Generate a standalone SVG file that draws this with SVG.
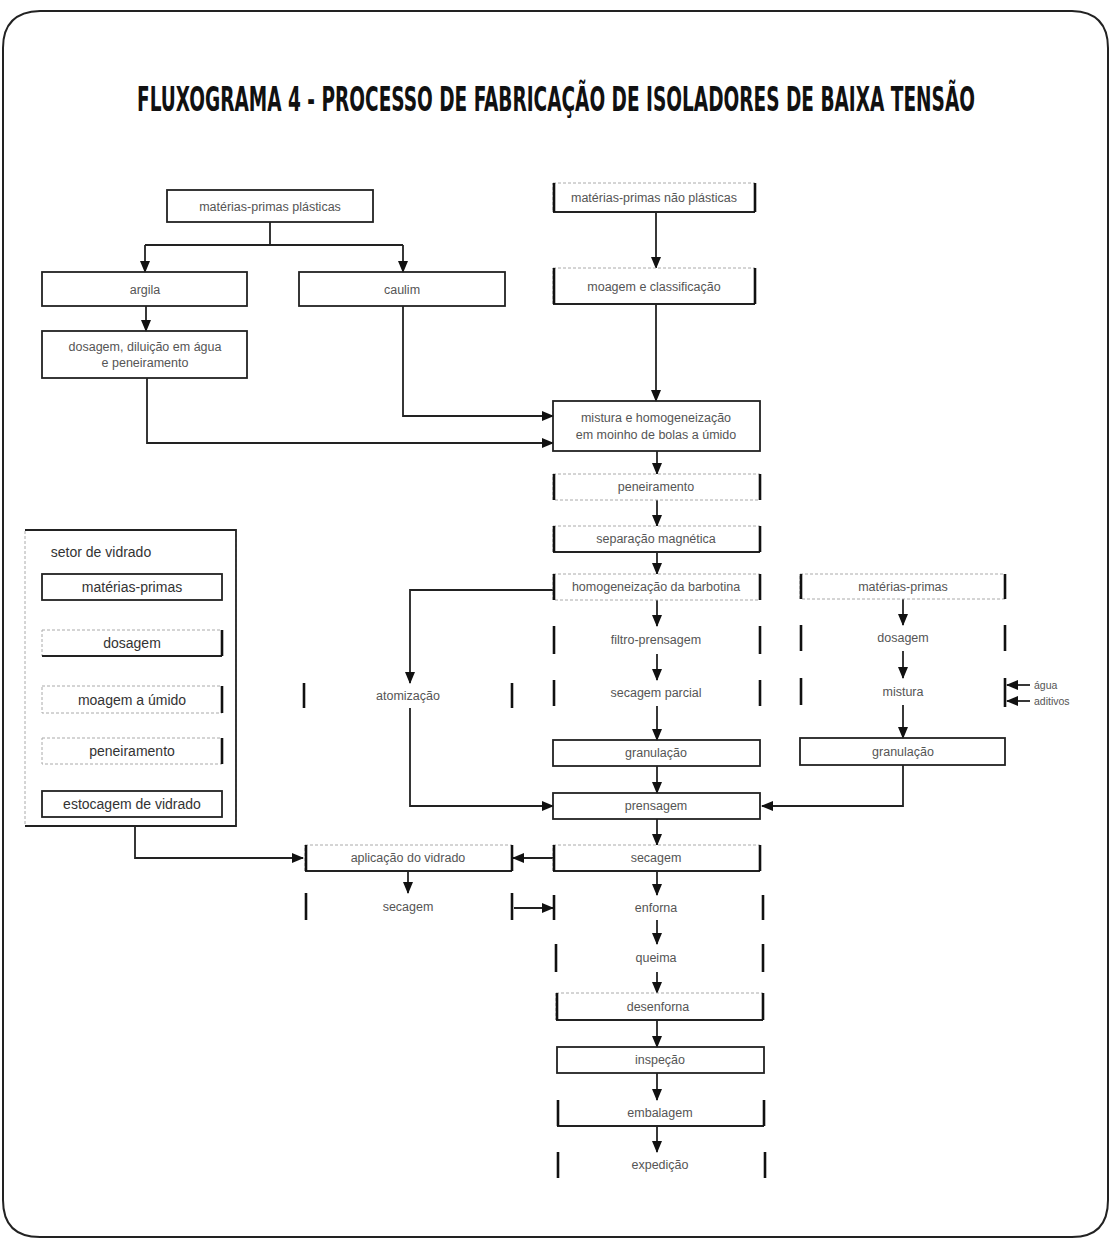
<svg xmlns="http://www.w3.org/2000/svg" width="1112" height="1247" viewBox="0 0 1112 1247">
<style>
  .frame{fill:none;stroke:#222;stroke-width:2}
  .title{font-family:"DejaVu Sans Condensed","DejaVu Sans",sans-serif;font-weight:bold;font-size:20px;fill:#111}
  .faint{fill:#fff;stroke:#aaa;stroke-width:1;stroke-dasharray:3 2}
  .solid{fill:none;stroke:#222;stroke-width:1.8}
  .bar{stroke:#111;stroke-width:2.6}
  .lbl{font-family:"Liberation Sans",Arial,sans-serif;font-size:12.5px;fill:#555;text-anchor:middle}
  .lbl2{font-family:"Liberation Sans",Arial,sans-serif;font-size:14px;fill:#333;text-anchor:middle}
  .small{font-family:"Liberation Sans",Arial,sans-serif;font-size:10.5px;fill:#555}
  .conn{fill:none;stroke:#222;stroke-width:1.8}
</style>
<defs>
  <marker id="ah" viewBox="0 0 12 12" refX="11" refY="6" markerWidth="12" markerHeight="12" markerUnits="userSpaceOnUse" orient="auto">
    <path d="M0,1 L12,6 L0,11 z" fill="#111"/>
  </marker>
</defs>
<rect width="1112" height="1247" fill="#fff"/>
<path class="frame" d="M3,48 Q3,12 40,11 L1072,11 Q1108,12 1108,48 L1108,1200 Q1108,1237 1072,1237 L40,1237 Q3,1237 3,1200 Z"/>
<text class="title" transform="translate(137,111) scale(1,1.65)" x="0" y="0" textLength="838" lengthAdjust="spacingAndGlyphs">FLUXOGRAMA 4 - PROCESSO DE FABRICAÇÃO DE ISOLADORES DE BAIXA TENSÃO</text>

<g id="connectors">
  <path class="conn" d="M270,222 V245 M145,245 H403"/>
  <path class="conn" d="M145,245 V272" marker-end="url(#ah)"/>
  <path class="conn" d="M403,245 V272" marker-end="url(#ah)"/>
  <path class="conn" d="M146,306 V331" marker-end="url(#ah)"/>
  <path class="conn" d="M147,378 V443 H553" marker-end="url(#ah)"/>
  <path class="conn" d="M403,306 V416 H553" marker-end="url(#ah)"/>
  <path class="conn" d="M656,212 V268" marker-end="url(#ah)"/>
  <path class="conn" d="M656,304 V401" marker-end="url(#ah)"/>
  <path class="conn" d="M657,451 V474" marker-end="url(#ah)"/>
  <path class="conn" d="M657,500 V526" marker-end="url(#ah)"/>
  <path class="conn" d="M657,552 V574" marker-end="url(#ah)"/>
  <path class="conn" d="M553,590 H410 V683" marker-end="url(#ah)"/>
  <path class="conn" d="M657,600 V626" marker-end="url(#ah)"/>
  <path class="conn" d="M657,654 V680" marker-end="url(#ah)"/>
  <path class="conn" d="M657,706 V740" marker-end="url(#ah)"/>
  <path class="conn" d="M657,766 V793" marker-end="url(#ah)"/>
  <path class="conn" d="M410,708 V806 H553" marker-end="url(#ah)"/>
  <path class="conn" d="M903,765 V806 H762" marker-end="url(#ah)"/>
  <path class="conn" d="M657,819 V845" marker-end="url(#ah)"/>
  <path class="conn" d="M553,858 H513" marker-end="url(#ah)"/>
  <path class="conn" d="M135,826 V858 H303" marker-end="url(#ah)"/>
  <path class="conn" d="M408,871 V893" marker-end="url(#ah)"/>
  <path class="conn" d="M514,908 H553" marker-end="url(#ah)"/>
  <path class="conn" d="M657,871 V895" marker-end="url(#ah)"/>
  <path class="conn" d="M657,920 V944" marker-end="url(#ah)"/>
  <path class="conn" d="M657,972 V993" marker-end="url(#ah)"/>
  <path class="conn" d="M657,1020 V1047" marker-end="url(#ah)"/>
  <path class="conn" d="M657,1073 V1100" marker-end="url(#ah)"/>
  <path class="conn" d="M657,1126 V1152" marker-end="url(#ah)"/>
  <path class="conn" d="M903,599 V625" marker-end="url(#ah)"/>
  <path class="conn" d="M903,651 V678" marker-end="url(#ah)"/>
  <path class="conn" d="M903,705 V738" marker-end="url(#ah)"/>
  <path class="conn" d="M1030,685 H1007" marker-end="url(#ah)"/>
  <path class="conn" d="M1030,701 H1007" marker-end="url(#ah)"/>
  <path class="conn" d="M133,600 V630" marker-end="url(#ah)"/>
  <path class="conn" d="M133,656 V686" marker-end="url(#ah)"/>
  <path class="conn" d="M133,713 V738" marker-end="url(#ah)"/>
  <path class="conn" d="M133,764 V791" marker-end="url(#ah)"/>
</g>

<g id="n-mp-plasticas"><rect class="solid" x="167" y="190" width="206" height="32"/><text class="lbl" x="270" y="211">matérias-primas plásticas</text></g>
<g id="n-argila"><rect class="solid" x="42" y="272" width="205" height="34"/><text class="lbl" x="145" y="294">argila</text></g>
<g id="n-caulim"><rect class="solid" x="299" y="272" width="206" height="34"/><text class="lbl" x="402" y="294">caulim</text></g>
<g id="n-dosagem-diluicao"><rect class="solid" x="42" y="331" width="205" height="47"/><text class="lbl" x="145" y="351">dosagem, diluição em água</text><text class="lbl" x="145" y="367">e peneiramento</text></g>

<g id="n-mp-nao-plasticas"><rect class="faint" x="553" y="183" width="202" height="29"/><line class="solid" x1="553" y1="212" x2="755" y2="212"/><line class="bar" x1="554" y1="183" x2="554" y2="212"/><line class="bar" x1="755" y1="183" x2="755" y2="212"/><text class="lbl" x="654" y="202">matérias-primas não plásticas</text></g>
<g id="n-dosagem-moagem"><rect class="faint" x="553" y="268" width="202" height="36"/><line class="solid" x1="553" y1="304" x2="755" y2="304"/><line class="bar" x1="554" y1="268" x2="554" y2="304"/><line class="bar" x1="755" y1="268" x2="755" y2="304"/><text class="lbl" x="654" y="291">moagem e classificação</text></g>
<g id="n-mistura"><rect class="solid" x="553" y="401" width="207" height="50"/><text class="lbl" x="656" y="422">mistura e homogeneização</text><text class="lbl" x="656" y="439">em moinho de bolas a úmido</text></g>
<g id="n-peneiramento"><rect class="faint" x="553" y="474" width="207" height="26"/><line class="bar" x1="554" y1="474" x2="554" y2="500"/><line class="bar" x1="760" y1="474" x2="760" y2="500"/><text class="lbl" x="656" y="491">peneiramento</text></g>
<g id="n-separacao"><rect class="faint" x="553" y="526" width="207" height="26"/><line class="solid" x1="553" y1="552" x2="760" y2="552"/><line class="bar" x1="554" y1="526" x2="554" y2="552"/><line class="bar" x1="760" y1="526" x2="760" y2="552"/><text class="lbl" x="656" y="543">separação magnética</text></g>
<g id="n-homog"><rect class="faint" x="553" y="574" width="207" height="26"/><line class="bar" x1="554" y1="574" x2="554" y2="600"/><line class="bar" x1="760" y1="574" x2="760" y2="600"/><text class="lbl" x="656" y="591">homogeneização da barbotina</text></g>
<g id="n-filtro"><line class="bar" x1="554" y1="626" x2="554" y2="654"/><line class="bar" x1="760" y1="626" x2="760" y2="654"/><text class="lbl" x="656" y="644">filtro-prensagem</text></g>
<g id="n-secagem-parcial"><line class="bar" x1="554" y1="680" x2="554" y2="706"/><line class="bar" x1="760" y1="680" x2="760" y2="706"/><text class="lbl" x="656" y="697">secagem parcial</text></g>
<g id="n-granulacao"><rect class="solid" x="553" y="740" width="207" height="26"/><text class="lbl" x="656" y="757">granulação</text></g>
<g id="n-prensagem"><rect class="solid" x="553" y="793" width="207" height="26"/><text class="lbl" x="656" y="810">prensagem</text></g>
<g id="n-secagem"><rect class="faint" x="553" y="845" width="207" height="26"/><line class="solid" x1="553" y1="871" x2="760" y2="871"/><line class="bar" x1="554" y1="845" x2="554" y2="871"/><line class="bar" x1="760" y1="845" x2="760" y2="871"/><text class="lbl" x="656" y="862">secagem</text></g>
<g id="n-enforna"><line class="bar" x1="554" y1="895" x2="554" y2="920"/><line class="bar" x1="763" y1="895" x2="763" y2="920"/><text class="lbl" x="656" y="912">enforna</text></g>
<g id="n-queima"><line class="bar" x1="556" y1="944" x2="556" y2="972"/><line class="bar" x1="763" y1="944" x2="763" y2="972"/><text class="lbl" x="656" y="962">queima</text></g>
<g id="n-desenforna"><rect class="faint" x="556" y="993" width="207" height="27"/><line class="solid" x1="556" y1="1020" x2="763" y2="1020"/><line class="bar" x1="557" y1="993" x2="557" y2="1020"/><line class="bar" x1="763" y1="993" x2="763" y2="1020"/><text class="lbl" x="658" y="1011">desenforna</text></g>
<g id="n-inspecao"><rect class="solid" x="557" y="1047" width="207" height="26"/><text class="lbl" x="660" y="1064">inspeção</text></g>
<g id="n-embalagem"><line class="solid" x1="557" y1="1126" x2="764" y2="1126"/><line class="bar" x1="558" y1="1100" x2="558" y2="1126"/><line class="bar" x1="764" y1="1100" x2="764" y2="1126"/><text class="lbl" x="660" y="1117">embalagem</text></g>
<g id="n-expedicao"><line class="bar" x1="558" y1="1152" x2="558" y2="1178"/><line class="bar" x1="765" y1="1152" x2="765" y2="1178"/><text class="lbl" x="660" y="1169">expedição</text></g>

<g id="n-atomizacao"><line class="bar" x1="304" y1="683" x2="304" y2="708"/><line class="bar" x1="512" y1="683" x2="512" y2="708"/><text class="lbl" x="408" y="700">atomização</text></g>
<g id="n-aplicacao"><rect class="faint" x="305" y="845" width="207" height="26"/><line class="solid" x1="305" y1="871" x2="512" y2="871"/><line class="bar" x1="306" y1="845" x2="306" y2="871"/><line class="bar" x1="512" y1="845" x2="512" y2="871"/><text class="lbl" x="408" y="862">aplicação do vidrado</text></g>
<g id="n-secagem2"><line class="bar" x1="306" y1="893" x2="306" y2="920"/><line class="bar" x1="512" y1="893" x2="512" y2="920"/><text class="lbl" x="408" y="911">secagem</text></g>

<g id="n-r-mp"><rect class="faint" x="800" y="574" width="205" height="25"/><line class="bar" x1="801" y1="574" x2="801" y2="599"/><line class="bar" x1="1005" y1="574" x2="1005" y2="599"/><text class="lbl" x="903" y="591">matérias-primas</text></g>
<g id="n-r-dosagem"><line class="bar" x1="801" y1="625" x2="801" y2="651"/><line class="bar" x1="1005" y1="625" x2="1005" y2="651"/><text class="lbl" x="903" y="642">dosagem</text></g>
<g id="n-r-mistura"><line class="bar" x1="801" y1="678" x2="801" y2="705"/><line class="bar" x1="1005" y1="678" x2="1005" y2="707"/><text class="lbl" x="903" y="696">mistura</text><text class="small" x="1034" y="689">água</text><text class="small" x="1034" y="705">aditivos</text></g>
<g id="n-r-granulacao"><rect class="solid" x="800" y="738" width="205" height="27"/><text class="lbl" x="903" y="756">granulação</text></g>

<g id="n-setor-vidrado">
  <rect class="faint" x="25" y="530" width="211" height="296"/>
  <path class="solid" d="M25,530 H236 V826 H25"/>
  <text class="lbl2" x="101" y="557" font-size="15">setor de vidrado</text>
  <g id="n-v-mp"><rect class="solid" x="42" y="574" width="180" height="26"/><text class="lbl2" x="132" y="592">matérias-primas</text></g>
  <g id="n-v-dosagem"><rect class="faint" x="42" y="630" width="180" height="26"/><line class="solid" x1="42" y1="656" x2="222" y2="656"/><line class="bar" x1="222" y1="630" x2="222" y2="656"/><text class="lbl2" x="132" y="648">dosagem</text></g>
  <g id="n-v-moagem"><rect class="faint" x="42" y="686" width="180" height="27"/><line class="bar" x1="222" y1="686" x2="222" y2="713"/><text class="lbl2" x="132" y="705">moagem a úmido</text></g>
  <g id="n-v-peneiramento"><rect class="faint" x="42" y="738" width="180" height="26"/><line class="bar" x1="222" y1="738" x2="222" y2="764"/><text class="lbl2" x="132" y="756">peneiramento</text></g>
  <g id="n-v-estocagem"><rect class="solid" x="42" y="791" width="180" height="26"/><text class="lbl2" x="132" y="809">estocagem de vidrado</text></g>
</g>
</svg>
